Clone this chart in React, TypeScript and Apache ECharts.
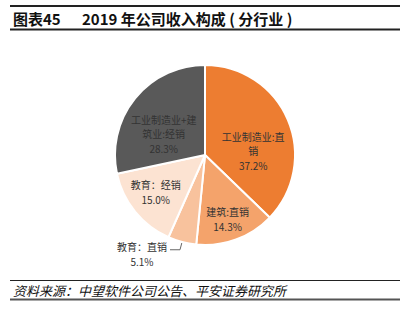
import React, { useEffect, useRef } from "react";
import * as echarts from "echarts";

const categories = ["工业制造业:直销", "建筑:直销", "教育：直销", "教育：经销", "工业制造业+建筑业:经销"];
const displayLabels = ["工业制造业:直\n销", "建筑:直销", "教育：直销", "教育：经销", "工业制造业+建\n筑业:经销"];
const shares = [37.2, 14.3, 5.1, 15.0, 28.3];
const sliceColors = ["#ED7D31", "#F4A36B", "#F8C29D", "#FCE3D2", "#595959"];

const titleNo = "图表45";
const titleText = "2019 年公司收入构成 ( 分行业 )";
const sourceText = "资料来源：中望软件公司公告、平安证券研究所";

const FONT = "'Noto Sans CJK SC', 'Noto Sans', sans-serif";

export default function App() {
  const ref = useRef<HTMLDivElement>(null);
  useEffect(() => {
    if (!ref.current) return;
    const chart = echarts.init(ref.current, undefined, { renderer: "svg" });
    const labelShift: Record<number, [number, number]> = {
      0: [4, 14.5],
      1: [6, 19],
      3: [-12, 7],
      4: [-4, 9],
    };
    chart.setOption({
      animation: false,
      backgroundColor: "#ffffff",
      graphic: [
        { type: "line", shape: { x1: 10, y1: 6, x2: 400, y2: 6 }, style: { stroke: "#222", lineWidth: 2 } },
        { type: "line", shape: { x1: 10, y1: 29.5, x2: 400, y2: 29.5 }, style: { stroke: "#222", lineWidth: 2 } },
        {
          type: "text",
          x: 13,
          y: 18.5,
          style: { text: titleNo, font: `bold 15px ${FONT}`, fill: "#111", textVerticalAlign: "middle" },
        },
        {
          type: "text",
          x: 82,
          y: 18.5,
          style: { text: titleText, font: `bold 15px ${FONT}`, fill: "#111", textVerticalAlign: "middle" },
        },
        { type: "line", shape: { x1: 10, y1: 280.5, x2: 400, y2: 280.5 }, style: { stroke: "#222", lineWidth: 1 } },
        {
          type: "text",
          x: 13,
          y: 290.5,
          style: { text: sourceText, font: `italic 13px ${FONT}`, fill: "#111", textVerticalAlign: "middle" },
        },
        { type: "line", shape: { x1: 10, y1: 299.5, x2: 400, y2: 299.5 }, style: { stroke: "#555", lineWidth: 2 } },
      ],
      series: [
        {
          type: "pie",
          center: [205, 155],
          radius: 90,
          startAngle: 90,
          clockwise: true,
          avoidLabelOverlap: false,
          itemStyle: { borderColor: "#ffffff", borderWidth: 2 },
          label: {
            position: "inside",
            fontFamily: FONT,
            fontSize: 10,
            color: "#333",
            lineHeight: 14.5,
            formatter: (p: any) => `${displayLabels[p.dataIndex]}\n${p.value.toFixed(1)}%`,
          },
          labelLayout: (p: any) => {
            const s = labelShift[p.dataIndex];
            if (!s) return {};
            return { dx: s[0], dy: s[1] };
          },
          data: categories.map((name, i) => {
            const item: any = { name, value: shares[i], itemStyle: { color: sliceColors[i] } };
            if (i === 2) {
              item.label = {
                position: "outside",
                distanceToLabelLine: 1,
                padding: [8, 0, 0, 0],
                formatter: (p: any) => `{a|${displayLabels[p.dataIndex]}}\n{a|${p.value.toFixed(1)}%}`,
                rich: { a: { width: 54, align: "center", fontSize: 10, fontFamily: FONT, color: "#333", lineHeight: 14.5 } },
              };
              item.labelLine = { show: true, length: 8, length2: 10, lineStyle: { color: "#666", width: 1 } };
            }
            return item;
          }),
        },
      ],
    });
    return () => chart.dispose();
  }, []);
  return <div ref={ref} style={{ position: "fixed", left: 0, top: 0, width: 405, height: 321 }} />;
}
